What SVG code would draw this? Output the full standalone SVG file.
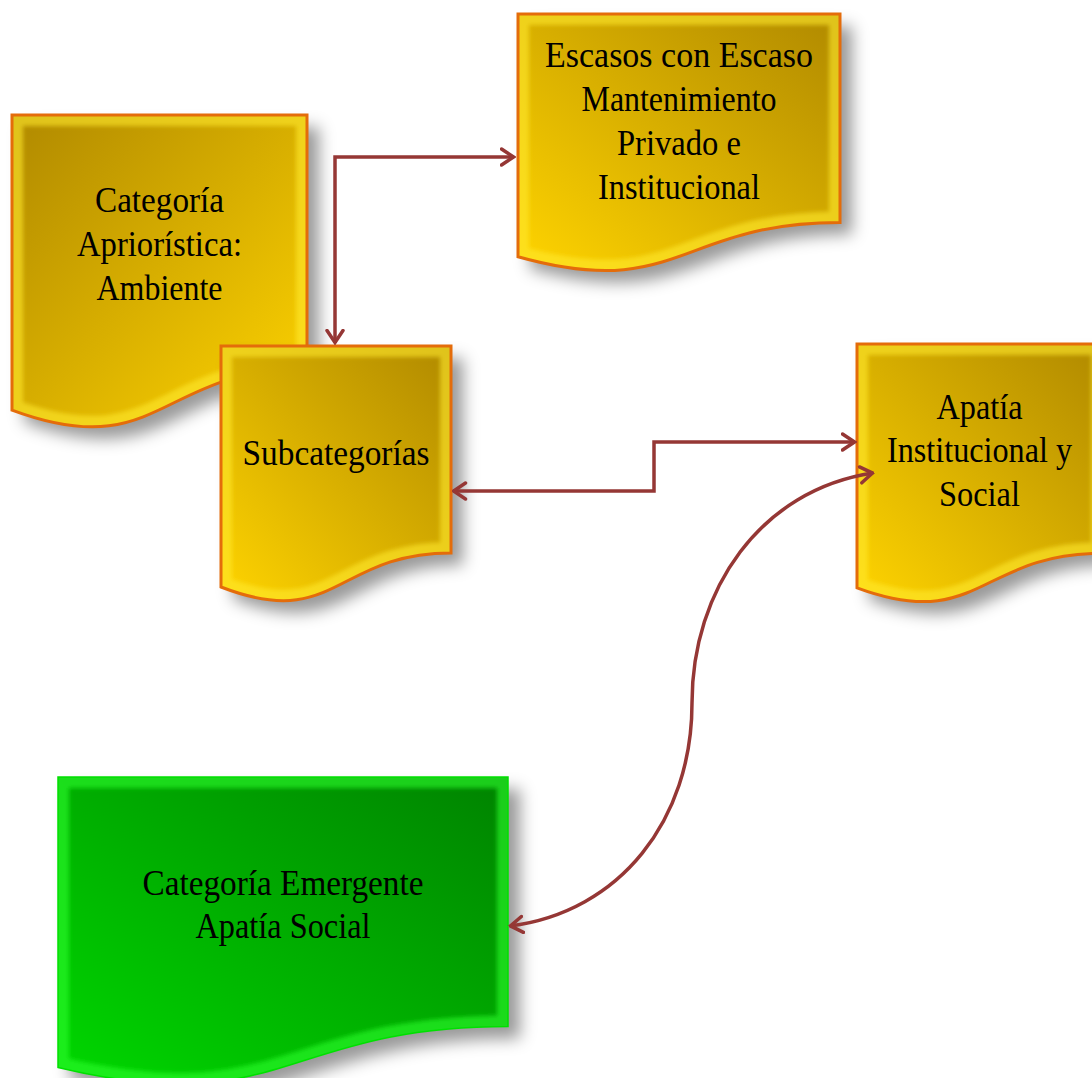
<svg xmlns="http://www.w3.org/2000/svg" xmlns:xlink="http://www.w3.org/1999/xlink" width="1092" height="1078" viewBox="0 0 1092 1078">
<style>
.lbl{font-family:"Liberation Serif","Times New Roman",serif;font-size:35px;fill:#000;text-anchor:middle}
.gold{stroke:#E46C0A;stroke-width:3;stroke-linejoin:miter}
.green{stroke:#00E000;stroke-width:1.5}
.rimg{fill:none;stroke:#FFEA2E;stroke-width:22;stroke-opacity:0.6}
.rimgr{fill:none;stroke:#2BFF2B;stroke-width:22;stroke-opacity:0.6}
.con{fill:none;stroke:#953735;stroke-width:3.5;stroke-linejoin:miter}
</style>
<defs>
<filter id="sh" x="-20%" y="-20%" width="150%" height="150%">
<feDropShadow dx="12" dy="12" stdDeviation="8" flood-color="#000" flood-opacity="0.4"/>
</filter>
<filter id="soft" x="-10%" y="-10%" width="120%" height="120%">
<feGaussianBlur stdDeviation="2"/>
</filter>
<linearGradient id="gTL" x1="0" y1="0" x2="1" y2="1">
<stop offset="0" stop-color="#B08900"/>
<stop offset="1" stop-color="#FFD400"/>
</linearGradient>
<linearGradient id="gTR" x1="1" y1="0" x2="0" y2="1">
<stop offset="0" stop-color="#B08900"/>
<stop offset="1" stop-color="#FFD400"/>
</linearGradient>
<linearGradient id="grTR" x1="1" y1="0" x2="0" y2="1">
<stop offset="0" stop-color="#008200"/>
<stop offset="1" stop-color="#00D800"/>
</linearGradient>
<path id="p1" d="M12,115 H307 V368.4 C159.5,368.4 159.5,464.8 12,410.1 Z"/>
<path id="p2" d="M221,346 H451 V552.9 C336,552.9 336,631.6 221,587 Z"/>
<path id="p3" d="M518,14 H840 V222.5 C679,222.5 679,301.8 518,256.8 Z"/>
<path id="p4" d="M857,344 H1102 V553.3 C979.5,553.3 979.5,632.9 857,587.8 Z"/>
<path id="p5" d="M58,777 H508 V1026.4 C283,1026.4 283,1121.3 58,1067.5 Z"/>
<clipPath id="c1"><use xlink:href="#p1"/></clipPath>
<clipPath id="c2"><use xlink:href="#p2"/></clipPath>
<clipPath id="c3"><use xlink:href="#p3"/></clipPath>
<clipPath id="c4"><use xlink:href="#p4"/></clipPath>
<clipPath id="c5"><use xlink:href="#p5"/></clipPath>
<marker id="ah" viewBox="0 0 16 20" refX="14.5" refY="10" markerWidth="16" markerHeight="20" markerUnits="userSpaceOnUse" orient="auto-start-reverse">
<path d="M2,2 L14,10 L2,18" fill="none" stroke="#953735" stroke-width="3.5" stroke-linecap="round" stroke-linejoin="miter"/>
</marker>
</defs>
<rect width="1092" height="1078" fill="#fff"/>

<g id="node-categoria">
<use xlink:href="#p1" fill="url(#gTL)" filter="url(#sh)"/>
<g clip-path="url(#c1)"><use xlink:href="#p1" class="rimg" filter="url(#soft)"/></g>
<use xlink:href="#p1" fill="none" class="gold"/>
<text class="lbl"><tspan x="159.5" y="212" textLength="129" lengthAdjust="spacingAndGlyphs">Categoría</tspan><tspan x="159.5" y="256" textLength="165" lengthAdjust="spacingAndGlyphs">Apriorística:</tspan><tspan x="159.5" y="300" textLength="126" lengthAdjust="spacingAndGlyphs">Ambiente</tspan></text>
</g>

<g id="node-escasos">
<use xlink:href="#p3" fill="url(#gTR)" filter="url(#sh)"/>
<g clip-path="url(#c3)"><use xlink:href="#p3" class="rimg" filter="url(#soft)"/></g>
<use xlink:href="#p3" fill="none" class="gold"/>
<text class="lbl"><tspan x="679" y="67" textLength="268" lengthAdjust="spacingAndGlyphs">Escasos con Escaso</tspan><tspan x="679" y="111" textLength="195" lengthAdjust="spacingAndGlyphs">Mantenimiento</tspan><tspan x="679" y="155" textLength="124" lengthAdjust="spacingAndGlyphs">Privado e</tspan><tspan x="679" y="199" textLength="162" lengthAdjust="spacingAndGlyphs">Institucional</tspan></text>
</g>

<g id="node-subcategorias">
<use xlink:href="#p2" fill="url(#gTR)" filter="url(#sh)"/>
<g clip-path="url(#c2)"><use xlink:href="#p2" class="rimg" filter="url(#soft)"/></g>
<use xlink:href="#p2" fill="none" class="gold"/>
<text class="lbl" x="336" y="465" textLength="187" lengthAdjust="spacingAndGlyphs">Subcategorías</text>
</g>

<g id="node-apatia">
<use xlink:href="#p4" fill="url(#gTR)" filter="url(#sh)"/>
<g clip-path="url(#c4)"><use xlink:href="#p4" class="rimg" filter="url(#soft)"/></g>
<use xlink:href="#p4" fill="none" class="gold"/>
<text class="lbl"><tspan x="979.5" y="419" textLength="86" lengthAdjust="spacingAndGlyphs">Apatía</tspan><tspan x="979.5" y="462" textLength="185" lengthAdjust="spacingAndGlyphs">Institucional y</tspan><tspan x="979.5" y="506" textLength="81" lengthAdjust="spacingAndGlyphs">Social</tspan></text>
</g>

<g id="node-emergente">
<use xlink:href="#p5" fill="url(#grTR)" filter="url(#sh)"/>
<g clip-path="url(#c5)"><use xlink:href="#p5" class="rimgr" filter="url(#soft)"/></g>
<use xlink:href="#p5" fill="none" class="green"/>
<text class="lbl"><tspan x="283" y="895" textLength="281" lengthAdjust="spacingAndGlyphs">Categoría Emergente</tspan><tspan x="283" y="938" textLength="175" lengthAdjust="spacingAndGlyphs">Apatía Social</tspan></text>
</g>

<g id="connectors">
<path class="con" d="M335,343 V157 H514" marker-start="url(#ah)" marker-end="url(#ah)"/>
<path class="con" d="M453,491 H654 V442 H855" marker-start="url(#ah)" marker-end="url(#ah)"/>
<path class="con" d="M873,473 C760,490 692,590 692,703 C692,820 620,912 510,926" marker-start="url(#ah)" marker-end="url(#ah)"/>
</g>
</svg>
